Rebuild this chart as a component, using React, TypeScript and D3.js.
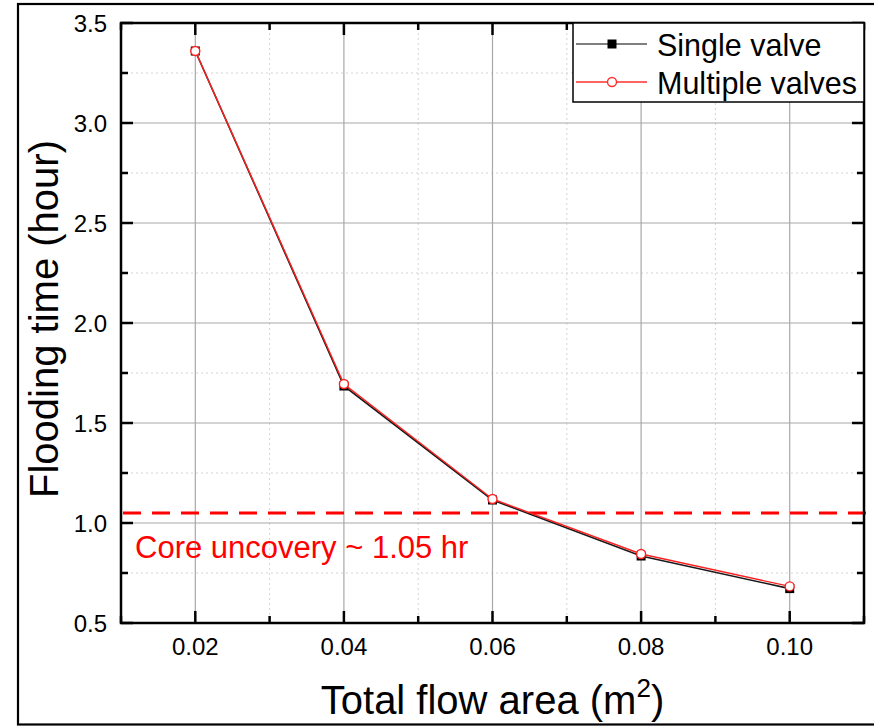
import React from "react";
import * as d3 from "d3";

// Total flow area (m²)
const flowAreas = [0.02, 0.04, 0.06, 0.08, 0.1];
// Flooding time (hour)
const singleValve = [3.36, 1.685, 1.115, 0.835, 0.672];
const multipleValves = [3.36, 1.695, 1.12, 0.845, 0.683];
const coreUncovery = 1.05;

const xMajorTicks = [0.02, 0.04, 0.06, 0.08, 0.1];
const xMinorTicks = [0.01, 0.03, 0.05, 0.07, 0.09, 0.11];
const yMajorTicks = [0.5, 1.0, 1.5, 2.0, 2.5, 3.0, 3.5];
const yMinorTicks = [0.75, 1.25, 1.75, 2.25, 2.75, 3.25];

const W = 874;
const H = 726;
const M = { left: 121, right: 864, top: 23, bottom: 623 };
const FONT = "'Liberation Sans', Arial, Helvetica, sans-serif";

export default function App() {
  const x = d3.scaleLinear().domain([0.01, 0.11]).range([M.left, M.right]);
  const y = d3.scaleLinear().domain([0.5, 3.5]).range([M.bottom, M.top]);

  const line = d3
    .line<number>()
    .x((_, i) => x(flowAreas[i]))
    .y((d) => y(d));

  const majorLen = 12;
  const minorLen = 7;
  const axisW = 2.5;

  return (
    <svg
      width={W}
      height={H}
      style={{ position: "absolute", left: 0, top: 0, background: "#fff" }}
      fontFamily={FONT}
    >
      <rect x={0} y={0} width={W} height={H} fill="#fff" />
      {/* outer frame */}
      <rect x={18} y={4} width={W + 20} height={720.5} fill="none" stroke="#000" strokeWidth={2.2} />

      {/* minor grid */}
      {xMinorTicks.slice(1, -1).map((t) => (
        <line key={"gxm" + t} x1={x(t)} x2={x(t)} y1={M.top} y2={M.bottom} stroke="#d4d4d4" strokeWidth={1} strokeDasharray="2,3" />
      ))}
      {yMinorTicks.map((t) => (
        <line key={"gym" + t} x1={M.left} x2={M.right} y1={y(t)} y2={y(t)} stroke="#d4d4d4" strokeWidth={1} strokeDasharray="2,3" />
      ))}
      {/* major grid */}
      {xMajorTicks.map((t) => (
        <line key={"gx" + t} x1={x(t)} x2={x(t)} y1={M.top} y2={M.bottom} stroke="#a8a8a8" strokeWidth={1.2} />
      ))}
      {yMajorTicks.slice(1, -1).map((t) => (
        <line key={"gy" + t} x1={M.left} x2={M.right} y1={y(t)} y2={y(t)} stroke="#a8a8a8" strokeWidth={1.2} />
      ))}

      {/* core uncovery threshold */}
      <line
        x1={M.left + 2}
        x2={W}
        y1={y(coreUncovery)}
        y2={y(coreUncovery)}
        stroke="#ff0000"
        strokeWidth={3}
        strokeDasharray="18,11"
      />
      <text x={135} y={558} fontSize={31} fill="#ff0000">
        Core uncovery ~ 1.05 hr
      </text>

      {/* series */}
      <path d={line(singleValve) || ""} fill="none" stroke="#1a1a1a" strokeWidth={1.6} />
      {singleValve.map((v, i) => (
        <rect key={"sq" + i} x={x(flowAreas[i]) - 4.5} y={y(v) - 4.5} width={9} height={9} fill="#000" />
      ))}
      <path d={line(multipleValves) || ""} fill="none" stroke="#ff2020" strokeWidth={1.4} />
      {multipleValves.map((v, i) => (
        <circle key={"ci" + i} cx={x(flowAreas[i])} cy={y(v)} r={4.5} fill="#fff" stroke="#ff2020" strokeWidth={1.4} />
      ))}

      {/* ticks on all four sides, pointing inward */}
      {xMajorTicks.map((t) => (
        <g key={"tx" + t} stroke="#000" strokeWidth={axisW}>
          <line x1={x(t)} x2={x(t)} y1={M.bottom} y2={M.bottom - majorLen} />
          <line x1={x(t)} x2={x(t)} y1={M.top} y2={M.top + majorLen} />
        </g>
      ))}
      {xMinorTicks.map((t) => (
        <g key={"txm" + t} stroke="#000" strokeWidth={axisW}>
          <line x1={x(t)} x2={x(t)} y1={M.bottom} y2={M.bottom - minorLen} />
          <line x1={x(t)} x2={x(t)} y1={M.top} y2={M.top + minorLen} />
        </g>
      ))}
      {yMajorTicks.map((t) => (
        <g key={"ty" + t} stroke="#000" strokeWidth={axisW}>
          <line x1={M.left} x2={M.left + majorLen} y1={y(t)} y2={y(t)} />
          <line x1={M.right} x2={M.right - majorLen} y1={y(t)} y2={y(t)} />
        </g>
      ))}
      {yMinorTicks.map((t) => (
        <g key={"tym" + t} stroke="#000" strokeWidth={axisW}>
          <line x1={M.left} x2={M.left + minorLen} y1={y(t)} y2={y(t)} />
          <line x1={M.right} x2={M.right - minorLen} y1={y(t)} y2={y(t)} />
        </g>
      ))}

      {/* plot frame */}
      <rect
        x={M.left}
        y={M.top}
        width={M.right - M.left}
        height={M.bottom - M.top}
        fill="none"
        stroke="#000"
        strokeWidth={axisW}
      />

      {/* tick labels */}
      {xMajorTicks.map((t) => (
        <text key={"lx" + t} x={x(t)} y={655} fontSize={24} textAnchor="middle" fill="#000">
          {d3.format(".2f")(t)}
        </text>
      ))}
      {yMajorTicks.map((t) => (
        <text key={"ly" + t} x={107} y={y(t)} dy="0.36em" fontSize={24} textAnchor="end" fill="#000">
          {d3.format(".1f")(t)}
        </text>
      ))}

      {/* axis titles */}
      <text x={(M.left + M.right) / 2} y={714} fontSize={40} textAnchor="middle" fill="#000">
        Total flow area (m
        <tspan fontSize={26} dy={-17}>2</tspan>
        <tspan dy={17}>)</tspan>
      </text>
      <text
        transform={`translate(58, ${(M.top + M.bottom) / 2 - 4}) rotate(-90)`}
        fontSize={40}
        textAnchor="middle"
        fill="#000"
      >
        Flooding time (hour)
      </text>

      {/* legend */}
      <rect x={573} y={M.top} width={M.right - 573} height={79} fill="#fff" stroke="#000" strokeWidth={1.5} />
      <line x1={576} x2={647} y1={44} y2={44} stroke="#555" strokeWidth={1.5} />
      <rect x={612 - 4.5} y={44 - 4.5} width={9} height={9} fill="#000" />
      <text x={657} y={56} fontSize={30.5} fill="#000">Single valve</text>
      <line x1={576} x2={647} y1={82} y2={82} stroke="#ff3030" strokeWidth={1.5} />
      <circle cx={612} cy={82} r={4.5} fill="#fff" stroke="#ff3030" strokeWidth={1.4} />
      <text x={657} y={94} fontSize={30.5} fill="#000">Multiple valves</text>
    </svg>
  );
}
